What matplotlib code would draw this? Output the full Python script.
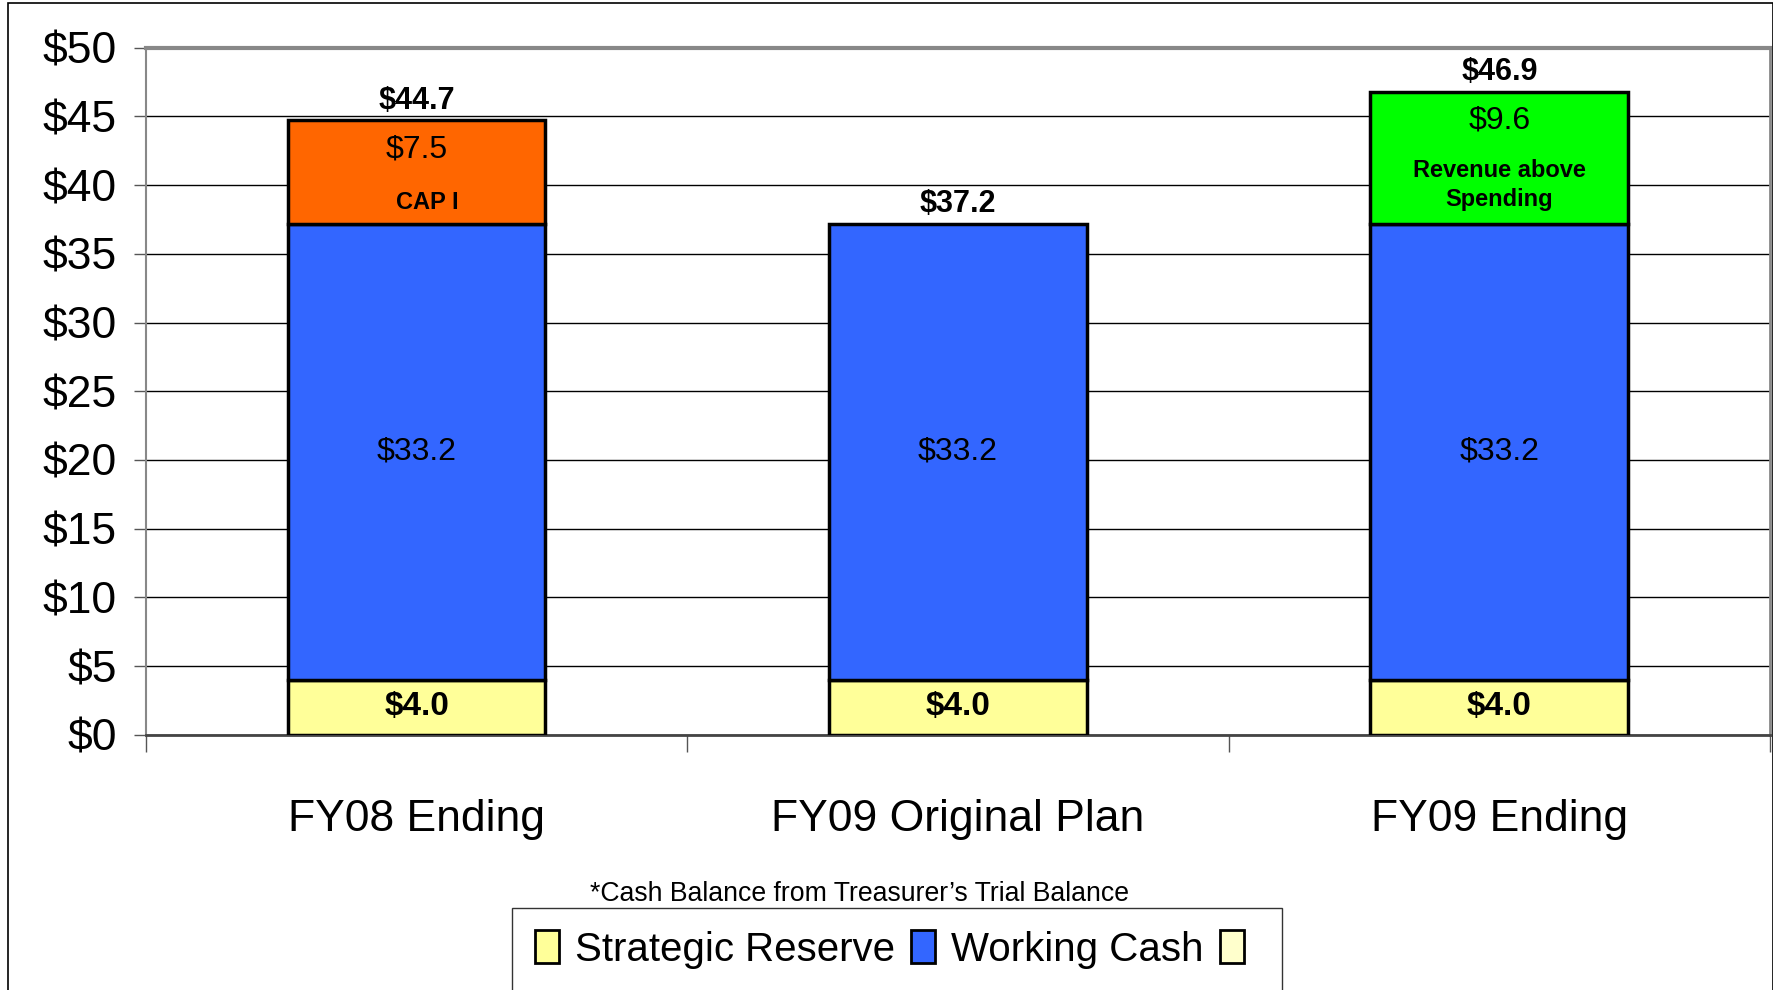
"""Cash balance stacked bar chart (FY08 / FY09)."""
import matplotlib

matplotlib.use("Agg")
import matplotlib.pyplot as plt  # noqa: E402
from matplotlib.patches import Patch, Rectangle  # noqa: E402

plt.rcParams["font.family"] = ["Liberation Sans", "DejaVu Sans"]

categories = ["FY08 Ending", "FY09 Original Plan", "FY09 Ending"]
strategic_reserve = [4.0, 4.0, 4.0]
working_cash = [33.2, 33.2, 33.2]
extra = [7.5, 0.0, 9.6]
extra_notes = ["CAP I", "", "Revenue above\nSpending"]
totals = [44.7, 37.2, 46.9]
yticks = [0, 5, 10, 15, 20, 25, 30, 35, 40, 45, 50]

c_reserve = "#FFFF99"
c_working = "#3366FF"
c_extra = ["#FF6600", "none", "#00FF00"]

fig = plt.figure(figsize=(17.73, 9.90), dpi=100)
ax = fig.add_axes([0.0823, 0.2576, 0.916, 0.6944])

x = list(range(len(categories)))
w = 0.476
ax.bar(x, strategic_reserve, w, color=c_reserve, edgecolor="black", linewidth=2.5, zorder=3)
ax.bar(x, working_cash, w, bottom=strategic_reserve, color=c_working,
       edgecolor="black", linewidth=2.5, zorder=3)
base2 = [a + b for a, b in zip(strategic_reserve, working_cash)]
for i in x:
    if extra[i] > 0:
        ax.bar(i, extra[i], w, bottom=base2[i], color=c_extra[i],
               edgecolor="black", linewidth=2.5, zorder=3)

# segment labels
for i in x:
    ax.text(i, strategic_reserve[i] / 2 + 0.05, f"${strategic_reserve[i]:.1f}",
            ha="center", va="center", fontsize=24, fontweight="bold", zorder=4)
    ax.text(i, strategic_reserve[i] + working_cash[i] / 2, f"${working_cash[i]:.1f}",
            ha="center", va="center", fontsize=23, zorder=4)
    top = base2[i] + extra[i]
    ax.text(i, top + 1.4, f"${totals[i]:.1f}", ha="center", va="center",
            fontsize=22, fontweight="bold", zorder=4)
    if extra[i] > 0:
        ax.text(i, top - 2.1, f"${extra[i]:.1f}", ha="center", va="center",
                fontsize=23, zorder=4)
    if extra_notes[i]:
        ny = base2[i] + 1.5 if "\n" not in extra_notes[i] else base2[i] + 2.8
        ax.text(i + 0.02 if i == 0 else i, ny, extra_notes[i], ha="center",
                va="center", fontsize=17, fontweight="bold", linespacing=1.3, zorder=4)

ax.set_xlim(-0.5, 2.5)
ax.set_ylim(0, 50)
ax.set_yticks(yticks)
ax.set_yticklabels([f"${v}" for v in yticks], fontsize=32)
ax.tick_params(axis="y", length=9, width=1, color="#555555", pad=12)
ax.yaxis.grid(True, color="black", linewidth=1, zorder=0)

ax.set_xticks(x)
ax.set_xticklabels(categories, fontsize=32)
ax.tick_params(axis="x", which="major", length=0, pad=46)
ax.set_xticks([-0.5, 0.5, 1.5, 2.5], minor=True)
ax.tick_params(axis="x", which="minor", length=12, width=1, color="#555555")

for side in ["top", "right", "left"]:
    ax.spines[side].set_color("#888888")
ax.spines["top"].set_linewidth(3)
ax.spines["right"].set_linewidth(2)
ax.spines["left"].set_linewidth(1.5)
ax.spines["bottom"].set_color("#444444")
ax.spines["bottom"].set_linewidth(2)

fig.text(0.4845, 0.097, "*Cash Balance from Treasurer\u2019s Trial Balance",
         ha="center", va="center", fontsize=19.2)

handles = [
    Patch(facecolor=c_reserve, edgecolor="black", linewidth=2),
    Patch(facecolor=c_working, edgecolor="black", linewidth=2),
    Patch(facecolor="#FFFFCC", edgecolor="black", linewidth=2),
]
leg = fig.legend(handles, ["Strategic Reserve", "Working Cash", ""], ncol=3,
                 loc="upper left", bbox_to_anchor=(0.289, 0.083), fontsize=29,
                 frameon=True, fancybox=False, edgecolor="black", borderaxespad=0,
                 handlelength=0.6, handleheight=0.9, handletextpad=0.4,
                 columnspacing=0.4, borderpad=0.55)
leg.get_frame().set_linewidth(1)

fig.patches.append(Rectangle((0.0045, -0.01), 0.9955, 1.0065, transform=fig.transFigure,
                             fill=False, edgecolor="black", linewidth=1.2))

fig.savefig("out.png", dpi=100)
